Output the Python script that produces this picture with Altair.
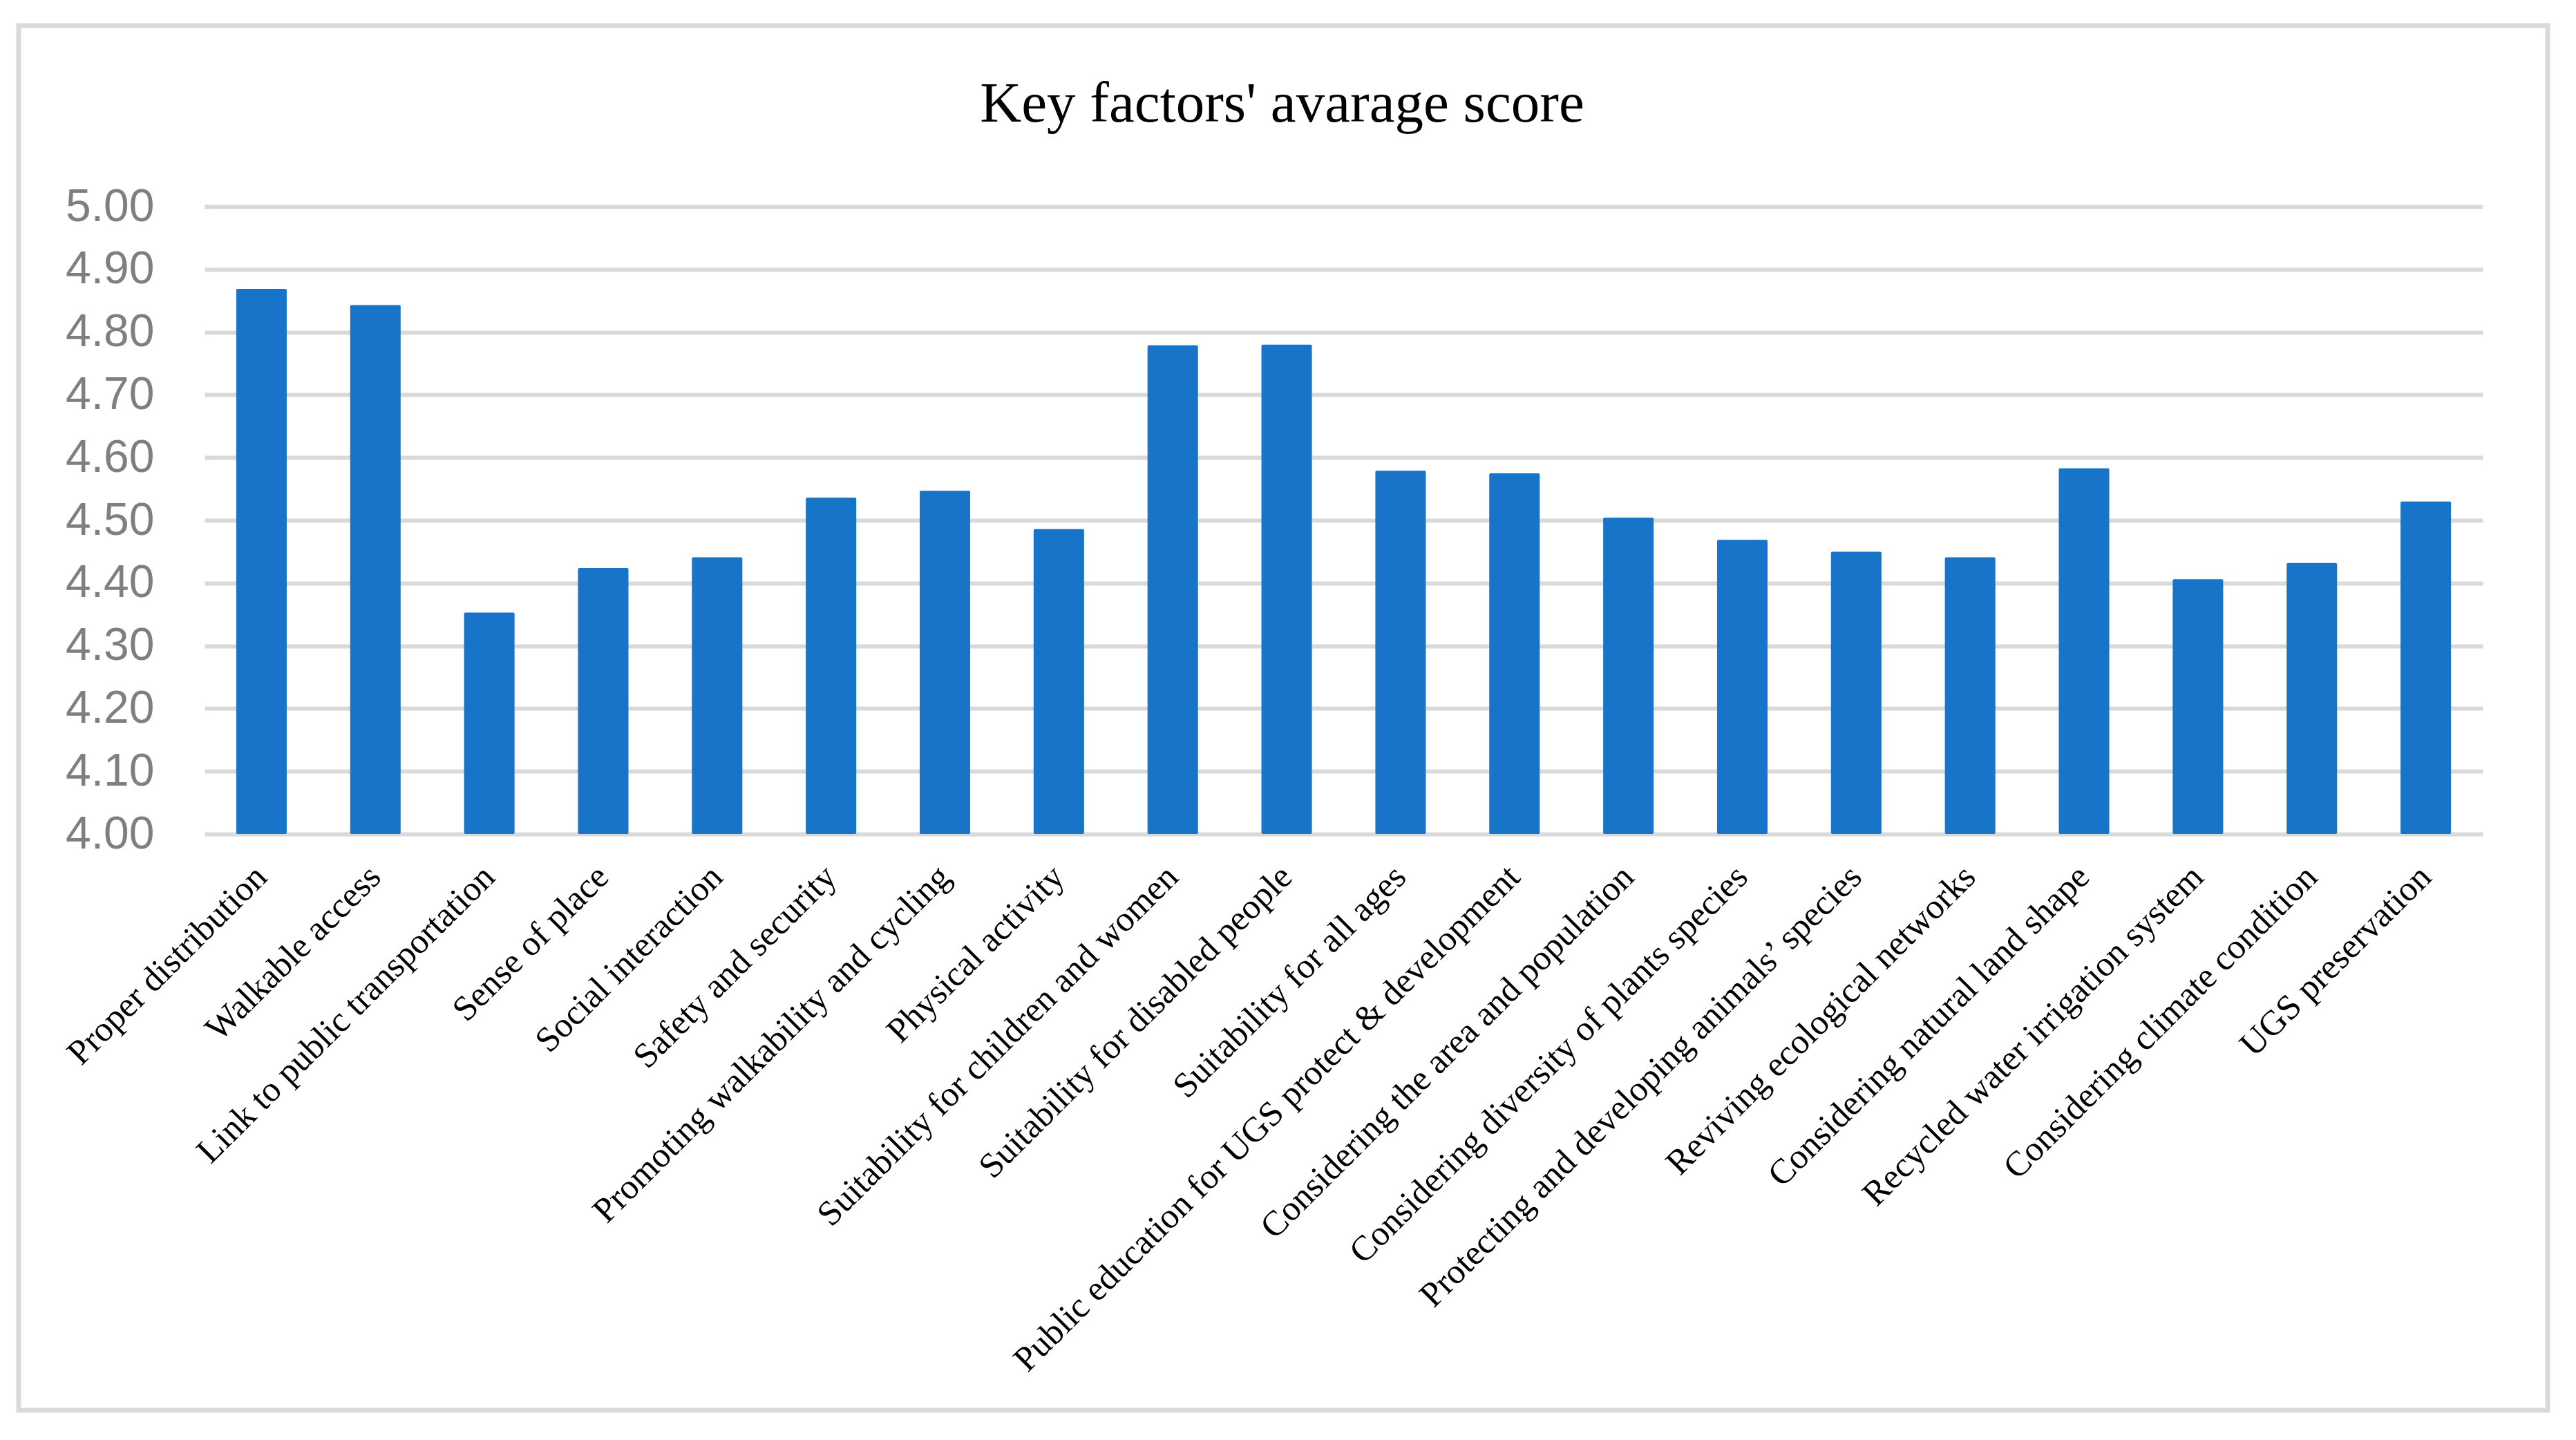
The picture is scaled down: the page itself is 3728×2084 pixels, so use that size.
import altair as alt
import pandas as pd

categories = [
    "Proper distribution",
    "Walkable access",
    "Link to public transportation",
    "Sense of place",
    "Social interaction",
    "Safety and security",
    "Promoting walkability and cycling",
    "Physical activity",
    "Suitability for children and women",
    "Suitability for disabled people",
    "Suitability for all ages",
    "Public education for UGS protect & development",
    "Considering the area and population",
    "Considering diversity of plants species",
    "Protecting and developing animals\u2019 species",
    "Reviving ecological networks",
    "Considering natural land shape",
    "Recycled water irrigation system",
    "Considering climate condition",
    "UGS preservation",
]
scores = [4.869, 4.843, 4.353, 4.424, 4.441, 4.536, 4.547, 4.486, 4.779, 4.780,
          4.579, 4.575, 4.504, 4.469, 4.450, 4.441, 4.583, 4.406, 4.432, 4.530]
y_ticks = [4.0, 4.1, 4.2, 4.3, 4.4, 4.5, 4.6, 4.7, 4.8, 4.9, 5.0]
baseline_value = 4.0
title_text = "Key factors' avarage score"

df = pd.DataFrame({"factor": categories, "score": scores, "base": [baseline_value] * len(scores)})

W, H = 3297, 908
PAD = {"left": 288, "top": 291, "right": 120, "bottom": 861}

bars = alt.Chart(df).mark_bar(color="#1874C8", cornerRadius=2).encode(
    x=alt.X(
        "factor:N",
        sort=categories,
        scale=alt.Scale(paddingInner=0.557, paddingOuter=0.2785),
        axis=alt.Axis(
            title=None,
            labelAngle=-45,
            labelAlign="right",
            labelBaseline="middle",
            labelFont="Liberation Serif",
            labelFontSize=51,
            labelColor="#000000",
            labelPadding=54,
            ticks=False,
            tickSize=0,
            domain=False,
            labelLimit=0,
            labelOverlap=False,
        ),
    ),
    y=alt.Y(
        "score:Q",
        scale=alt.Scale(domain=[4, 5], nice=False, zero=False),
        axis=alt.Axis(
            title=None,
            values=y_ticks,
            format=".2f",
            labelFont="Liberation Sans",
            labelFontSize=66,
            labelColor="#7f7f7f",
            labelPadding=73,
            ticks=False,
            tickSize=0,
            domain=False,
            grid=True,
            gridColor="#d9d9d9",
            gridWidth=6,
        ),
    ),
    y2="base:Q",
)

frame = alt.Chart(pd.DataFrame({"k": [0]})).mark_rect(
    fill="#ffffff", fillOpacity=0, stroke="#d9d9d9", strokeWidth=7
).encode(
    x=alt.value(-269), x2=alt.value(3391), y=alt.value(-262), y2=alt.value(1742)
)

chart = alt.layer(bars, frame).properties(
    width=W,
    height=H,
    padding=PAD,
    autosize=alt.AutoSizeParams(type="none"),
    title=alt.TitleParams(
        title_text,
        font="Liberation Serif",
        fontSize=83,
        fontWeight="normal",
        color="#000000",
        anchor="middle",
        dx=-89,
        offset=-225,
        baseline="alphabetic",
    ),
).configure_view(stroke=None)

chart.save("out.html", embed_options={"renderer": "svg", "actions": False})
